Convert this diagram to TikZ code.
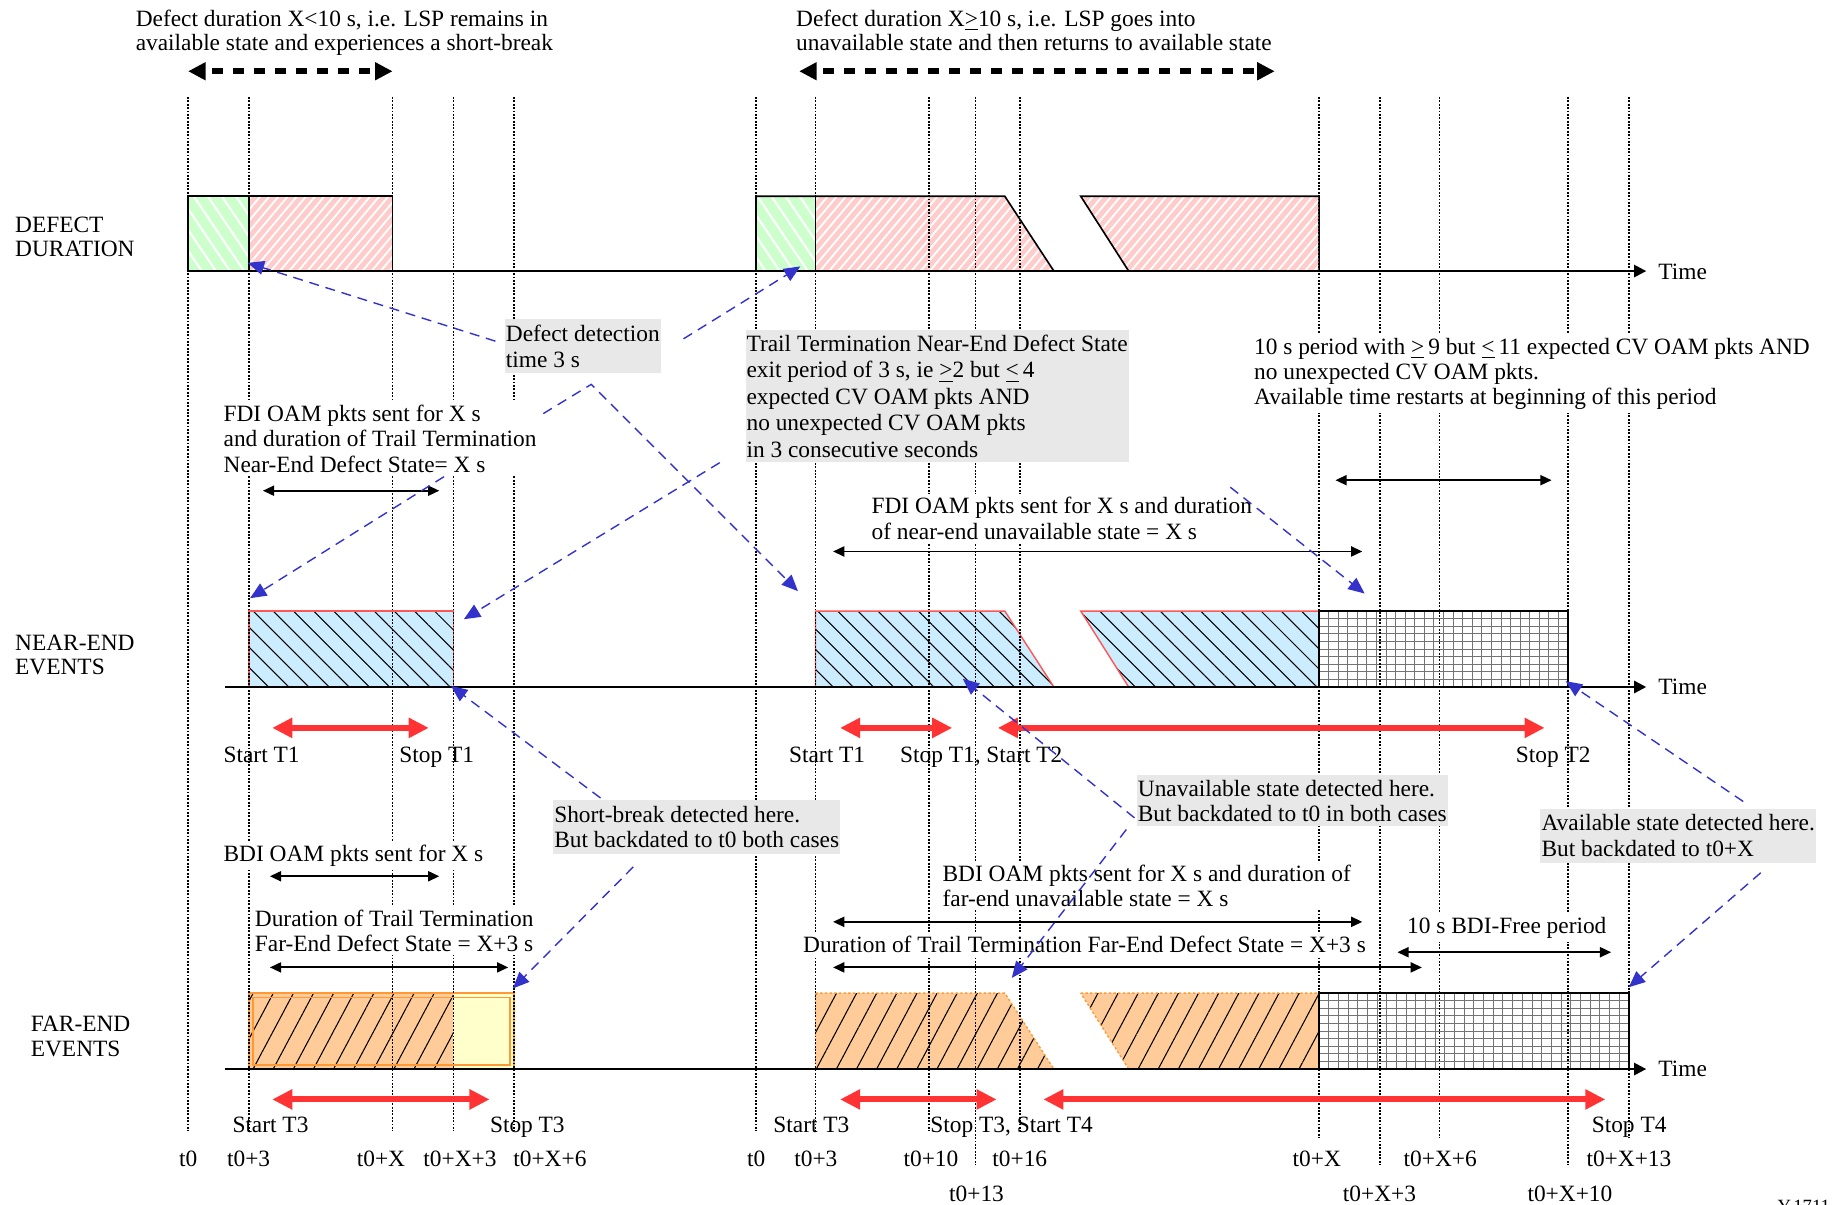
\documentclass[tikz,border=0pt]{standalone}
\usepackage{fontspec}
\setmainfont{Liberation Serif}
\usetikzlibrary{arrows.meta,patterns.meta}
\definecolor{pinkf}{HTML}{FFCCCC}
\definecolor{greenf}{HTML}{CCFFCC}
\definecolor{bluef}{HTML}{CCECFF}
\definecolor{orangef}{HTML}{FFCC99}
\definecolor{yellowf}{HTML}{FFFFCC}
\definecolor{redarr}{HTML}{FF3333}
\definecolor{bluearr}{HTML}{3333CC}
\definecolor{greybox}{HTML}{E8E8E8}
\definecolor{redline}{HTML}{FF5555}
\definecolor{orangeline}{HTML}{FF9933}
\begin{document}
\begin{tikzpicture}[x=0.5pt,y=-0.5pt,
  lbl/.style={font=\fontsize{10}{11}\selectfont, inner sep=0pt, align=left},
  wlbl/.style={lbl, fill=white, inner sep=1.5pt},
  gbox/.style={lbl, fill=greybox, inner xsep=0.5pt, inner ysep=2.5pt},
  vline/.style={line width=0.7pt, dash pattern=on 0.8pt off 0.65pt},
  axisln/.style={line width=1pt, -{Triangle[length=5.2pt,width=5.2pt]}},
  dimarr/.style={line width=0.8pt, {Triangle[length=4.8pt,width=4.3pt]}-{Triangle[length=4.8pt,width=4.3pt]}},
  bigdash/.style={line width=2.6pt, dash pattern=on 4.7pt off 4.3pt, dash phase=6pt, {Triangle[length=7.5pt,width=7.3pt]}-{Triangle[length=7.5pt,width=7.3pt]}},
  redarrow/.style={draw=redarr, line width=2.6pt, {Triangle[length=8.6pt,width=8.2pt]}-{Triangle[length=8.6pt,width=8.2pt]}},
  bluearrow/.style={draw=bluearr, line width=0.6pt, dash pattern=on 4.3pt off 2.9pt, -{Triangle[length=7pt,width=6pt]}},
  shapeline/.style={line width=0.7pt},
  pinkhatch/.style={fill=pinkf, postaction={pattern={Lines[angle=50,distance=3pt,line width=0.8pt]}, pattern color=white}},
  greenhatch/.style={fill=greenf, postaction={pattern={Lines[angle=-56,distance=5pt,line width=0.9pt]}, pattern color=white}},
  bluehatch/.style={fill=bluef, postaction={pattern={Lines[angle=-45,distance=6.1pt,line width=0.45pt]}, pattern color=black}},
  orangehatch/.style={fill=orangef, postaction={pattern={Lines[angle=62,distance=7.6pt,line width=0.45pt]}, pattern color=black}},
  gridln/.style={draw=black!55, line width=0.4pt},
]
\useasboundingbox (0,0) rectangle (1568,1031);

% ---------- DEFECT DURATION shapes ----------
\path[greenhatch] (161,168) rectangle (213,232);
\path[pinkhatch] (213,168) rectangle (336,232);
\draw[shapeline] (161,232) -- (161,168) -- (336,168) -- (336,232);
\draw[shapeline] (213,168) -- (213,232);
\path[greenhatch] (647,168) rectangle (698,232);
\path[pinkhatch] (698,168) -- (860,168) -- (902,232) -- (698,232) -- cycle;
\path[pinkhatch] (925,168) -- (1129,168) -- (1129,232) -- (966,232) -- cycle;
\draw[shapeline] (647,232) -- (647,168) -- (860,168) -- (902,232);
\draw[shapeline] (698,168) -- (698,232);
\draw[shapeline] (966,232) -- (925,168) -- (1129,168) -- (1129,232);

% ---------- NEAR-END shapes ----------
\path[bluehatch] (213,523) rectangle (388,588);
\draw[redline, line width=0.6pt] (213,523) rectangle (388,588);
\path[bluehatch] (698,523) -- (860,523) -- (902,588) -- (698,588) -- cycle;
\draw[redline, line width=0.6pt] (698,523) -- (860,523) -- (902,588) -- (698,588) -- cycle;
\path[bluehatch] (925,523) -- (1129,523) -- (1129,588) -- (966,588) -- cycle;
\draw[redline, line width=0.6pt] (925,523) -- (1129,523) -- (1129,588) -- (966,588) -- cycle;
\fill[white] (1129,523) rectangle (1342,588);
\foreach \i in {1,...,25} \draw[gridln] ({1129+\i*213/26},523) -- ({1129+\i*213/26},588);
\foreach \j in {1,...,9} \draw[gridln] (1129,{523+\j*6.5}) -- (1342,{523+\j*6.5});
\draw[line width=0.7pt] (1129,523) rectangle (1342,588);

% ---------- FAR-END shapes ----------
\path[orangehatch] (213,850) rectangle (388,915);
\fill[yellowf] (388,850) rectangle (440,915);
\draw[orangeline, line width=0.6pt] (213,850) rectangle (440,915);
\draw[orangeline, line width=0.6pt] (216.5,853.5) rectangle (436.5,911.5);
\path[orangehatch] (698,850) -- (860,850) -- (902,915) -- (698,915) -- cycle;
\draw[orangeline, line width=0.6pt, dash pattern=on 1pt off 1pt] (698,850) -- (860,850) -- (902,915) -- (698,915) -- cycle;
\path[orangehatch] (925,850) -- (1129,850) -- (1129,915) -- (966,915) -- cycle;
\draw[orangeline, line width=0.6pt, dash pattern=on 1pt off 1pt] (925,850) -- (1129,850) -- (1129,915) -- (966,915) -- cycle;
\fill[white] (1129,850) rectangle (1394,915);
\foreach \i in {1,...,31} \draw[gridln] ({1129+\i*265/32},850) -- ({1129+\i*265/32},915);
\foreach \j in {1,...,9} \draw[gridln] (1129,{850+\j*6.5}) -- (1394,{850+\j*6.5});
\draw[line width=0.7pt] (1129,850) rectangle (1394,915);

% ---------- vertical dotted time lines ----------
\foreach \x/\b in {161/968,213/968,336/968,388/968,440/968,647/968,698/968,795/968,835/997,873/968,1129/974,1181/997,1232/974,1342/997,1394/974}
  \draw[vline] (\x,83) -- (\x,\b);

% ---------- axes ----------
\coordinate (ax1s) at (161,232); \coordinate (ax1e) at (1409,232);
\coordinate (ax2s) at (193,588); \coordinate (ax2e) at (1409,588);
\coordinate (ax3s) at (193,915); \coordinate (ax3e) at (1409,915);
\draw[axisln] (ax1s) -- (ax1e);
\draw[axisln] (ax2s) -- (ax2e);
\draw[axisln] (ax3s) -- (ax3e);
\node[lbl, anchor=base west] (time1) at (1419,239) {Time};
\node[lbl, anchor=base west] (time2) at (1419,594) {Time};
\node[lbl, anchor=base west] (time3) at (1419,921) {Time};

% ---------- row labels ----------
\node[lbl, anchor=north west, font=\fontsize{10}{10.4}\selectfont] (rowdef) at (12.6,185.4) {DEFECT\\DURATION};
\node[lbl, anchor=north west, font=\fontsize{10}{10.5}\selectfont] (rownear) at (12.6,543) {NEAR-END\\EVENTS};
\node[lbl, anchor=north west, font=\fontsize{10}{10.5}\selectfont] (rowfar) at (26,869.4) {FAR-END\\EVENTS};

% ---------- top texts ----------
\node[lbl, anchor=north west, font=\fontsize{10}{10.4}\selectfont] (topL) at (115.8,8) {Defect duration X<10 s, i.e. LSP remains in\\available state and experiences a short-break};
\node[lbl, anchor=north west, font=\fontsize{10}{10.4}\selectfont] (topR) at (681,8) {Defect duration X\underline{>}10 s, i.e. LSP goes into\\unavailable state and then returns to available state};

% ---------- white-backed texts ----------
\node[wlbl, anchor=north west] (fdiL) at (188,343) {FDI OAM pkts sent for X s\\and duration of Trail Termination\\Near-End Defect State= X s};
\node[wlbl, anchor=north west, font=\fontsize{10}{10.85}\selectfont] (tenper) at (1070,285.9) {10 s period with \underline{>}\,9 but \underline{<}\,11 expected CV OAM pkts AND\\no unexpected CV OAM pkts.\\Available time restarts at beginning of this period};
\node[wlbl, anchor=north west] (fdiR) at (742.6,422.4) {FDI OAM pkts sent for X s and duration\\of near-end unavailable state = X s};
\node[wlbl, anchor=base west] (bdiL) at (188,737) {BDI OAM pkts sent for X s};
\node[wlbl, anchor=north west, font=\fontsize{10}{10.65}\selectfont] (durL) at (214.8,775.8) {Duration of Trail Termination\\Far-End Defect State = X+3 s};
\node[wlbl, anchor=north west, font=\fontsize{10}{10.8}\selectfont] (bdiR) at (803.4,736.7) {BDI OAM pkts sent for X s and duration of\\far-end unavailable state = X s};
\node[wlbl, anchor=base west] (durR) at (684,815.4) {Duration of Trail Termination Far-End Defect State = X+3 s};
\node[wlbl, anchor=base west] (bdifree) at (1201,799.4) {10 s BDI-Free period};

% ---------- grey callout boxes ----------
\node[gbox, anchor=north west, font=\fontsize{10}{11.1}\selectfont] (detect) at (431.6,272.5) {Defect detection\\time 3 s};
\node[gbox, anchor=north west, inner ysep=2.2pt, inner xsep=0.4pt, font=\fontsize{10}{11.3}\selectfont] (trail) at (637.8,281.9) {Trail Termination Near-End Defect State\\exit period of 3 s, ie \underline{>}2 but \underline{<}\,4\\expected CV OAM pkts AND\\no unexpected CV OAM pkts\\in 3 consecutive seconds};
\node[gbox, anchor=north west, font=\fontsize{10}{10.8}\selectfont] (shortb) at (473,684.7) {Short-break detected here.\\But backdated to t0 both cases};
\node[gbox, anchor=north west, inner ysep=2pt, font=\fontsize{10}{10.8}\selectfont] (unavail) at (972.5,663.3) {Unavailable state detected here.\\But backdated to t0 in both cases};
\node[gbox, anchor=north west, font=\fontsize{10}{11}\selectfont] (avail) at (1318,691.8) {Available state detected here.\\But backdated to t0+X};

% ---------- start / stop labels ----------
\node[lbl, anchor=base west] (st1a) at (191,653) {Start T1};
\node[lbl, anchor=base west] (sp1a) at (341.5,653) {Stop T1};
\node[lbl, anchor=base west] (st1b) at (675,653) {Start T1};
\node[lbl, anchor=base west] (sp1b) at (770,653) {Stop T1, Start T2};
\node[lbl, anchor=base west] (sp2) at (1297,653) {Stop T2};
\node[lbl, anchor=base west] (st3a) at (198.6,969.4) {Start T3};
\node[lbl, anchor=base west] (sp3a) at (419,969.4) {Stop T3};
\node[lbl, anchor=base west] (st3b) at (661.6,969.4) {Start T3};
\node[lbl, anchor=base west] (sp3b) at (796,969.4) {Stop T3, Start T4};
\node[lbl, anchor=base west] (sp4) at (1362,969.4) {Stop T4};

% ---------- time labels ----------
\node[lbl, anchor=base west] (tA0) at (153,998.5) {t0};
\node[lbl, anchor=base west] (tA3) at (194,998.5) {t0+3};
\node[lbl, anchor=base west] (tAX) at (305,998.5) {t0+X};
\node[lbl, anchor=base west] (tAX3) at (362,998.5) {t0+X+3};
\node[lbl, anchor=base west] (tAX6) at (439,998.5) {t0+X+6};
\node[lbl, anchor=base west] (tB0) at (639,998.5) {t0};
\node[lbl, anchor=base west] (tB3) at (679.5,998.5) {t0+3};
\node[lbl, anchor=base west] (tB10) at (773,998.5) {t0+10};
\node[lbl, anchor=base west] (tB16) at (849,998.5) {t0+16};
\node[lbl, anchor=base west] (tBX) at (1106,998.5) {t0+X};
\node[lbl, anchor=base west] (tBX6) at (1201,998.5) {t0+X+6};
\node[lbl, anchor=base west] (tBX13) at (1357.5,998.5) {t0+X+13};
\node[lbl, anchor=base west] (tB13) at (812,1028) {t0+13};
\node[lbl, anchor=base west] (tBX3) at (1149,1028) {t0+X+3};
\node[lbl, anchor=base west] (tBX10) at (1307,1028) {t0+X+10};
\node[lbl, anchor=north west, font=\fontsize{8}{9}\selectfont] (figid) at (1521,1026.5) {Y.1711};

% ---------- top dashed span arrows ----------
\coordinate (spL1) at (161,61); \coordinate (spL2) at (336,61);
\coordinate (spR1) at (684,61); \coordinate (spR2) at (1091,61);
\draw[bigdash] (spL1) -- (spL2);
\draw[bigdash] (spR1) -- (spR2);

% ---------- black dimension arrows ----------
\coordinate (d1a) at (225,420); \coordinate (d1b) at (376,420);
\coordinate (d2a) at (1143,411); \coordinate (d2b) at (1328,411);
\coordinate (d3a) at (713,472); \coordinate (d3b) at (1166,472);
\coordinate (d4a) at (231,750); \coordinate (d4b) at (376,750);
\coordinate (d5a) at (231,828); \coordinate (d5b) at (435,828);
\coordinate (d6a) at (713,789); \coordinate (d6b) at (1166,789);
\coordinate (d7a) at (713,828); \coordinate (d7b) at (1217,828);
\coordinate (d8a) at (1196,815); \coordinate (d8b) at (1379,815);
\foreach \p in {1,...,8} \draw[dimarr] (d\p a) -- (d\p b);

% ---------- red timer arrows ----------
\coordinate (r1a) at (233,623); \coordinate (r1b) at (367,623);
\coordinate (r2a) at (719,623); \coordinate (r2b) at (815,623);
\coordinate (r3a) at (854,623); \coordinate (r3b) at (1322,623);
\coordinate (r4a) at (233,941); \coordinate (r4b) at (419,941);
\coordinate (r5a) at (719,941); \coordinate (r5b) at (853,941);
\coordinate (r6a) at (893,941); \coordinate (r6b) at (1374,941);
\foreach \p in {1,...,6} \draw[redarrow] (r\p a) -- (r\p b);

% ---------- blue dashed callout arrows ----------
\coordinate (b1a) at (424,292); \coordinate (b1b) at (212,225);
\coordinate (b2a) at (585,290); \coordinate (b2b) at (685,228);
\coordinate (b3a) at (465,354); \coordinate (b3m) at (506,329); \coordinate (b3b) at (683,506);
\coordinate (b4a) at (380,408); \coordinate (b4b) at (214,512);
\coordinate (b5a) at (616,396); \coordinate (b5b) at (397,530);
\coordinate (b6a) at (514,683); \coordinate (b6b) at (386,587);
\coordinate (b7a) at (542,742); \coordinate (b7b) at (439,846);
\coordinate (b8a) at (1053,417); \coordinate (b8b) at (1168,508);
\coordinate (b9a) at (971,700); \coordinate (b9b) at (824,581);
\coordinate (b10a) at (964,710); \coordinate (b10b) at (866,837);
\coordinate (b11a) at (1492,686); \coordinate (b11b) at (1340,583);
\coordinate (b12a) at (1507,747); \coordinate (b12b) at (1394,845);
\draw[bluearrow] (b1a) -- (b1b);
\draw[bluearrow] (b2a) -- (b2b);
\draw[bluearrow] (b3a) -- (b3m) -- (b3b);
\draw[bluearrow] (b4a) -- (b4b);
\draw[bluearrow] (b5a) -- (b5b);
\draw[bluearrow] (b6a) -- (b6b);
\draw[bluearrow] (b7a) -- (b7b);
\draw[bluearrow] (b8a) -- (b8b);
\draw[bluearrow] (b9a) -- (b9b);
\draw[bluearrow] (b10a) -- (b10b);
\draw[bluearrow] (b11a) -- (b11b);
\draw[bluearrow] (b12a) -- (b12b);
\end{tikzpicture}
\end{document}
